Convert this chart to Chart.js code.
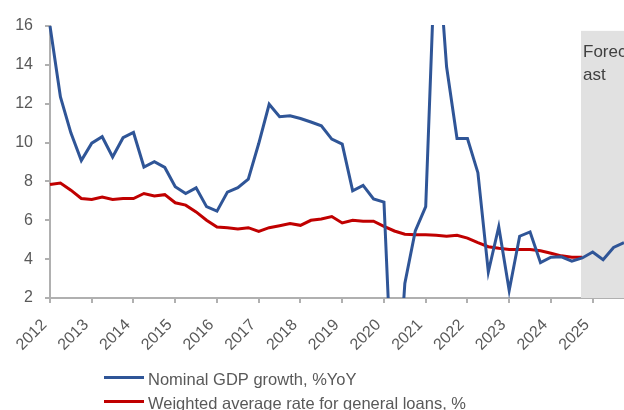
<!DOCTYPE html>
<html>
<head>
<meta charset="utf-8">
<script src="https://cdn.jsdelivr.net/npm/chart.js@4.4.1/dist/chart.umd.min.js"></script>
<style>
  html, body { margin: 0; padding: 0; background: #ffffff; }
  canvas { display: block; }
</style>
</head>
<body>
<canvas id="chart" width="624" height="410"></canvas>
<script>
// ---- data (quarterly, first point = start of 2012) ----
const startYear = 2012;
const endYear = 2025.75;
const forecastStart = 2024.72;
const forecastLabel = ['Forec', 'ast'];
const seriesNames = ['Nominal GDP growth, %YoY', 'Weighted average rate for general loans, %'];

const nominalGdpGrowth = [
  16.0, 12.35, 10.5, 9.07, 9.97, 10.3, 9.26, 10.25,
  10.52, 8.74, 9.02, 8.72, 7.73, 7.38, 7.67, 6.7,
  6.47, 7.45, 7.68, 8.12, 9.95, 11.97, 11.33, 11.38,
  11.24, 11.06, 10.86, 10.18, 9.92, 7.52, 7.8, 7.1,
  6.94, -5.3, 2.75, 5.45, 6.7, 21.2, 13.9, 10.21,
  10.21, 8.45, 3.34, 5.67, 2.39, 5.18, 5.4, 3.82,
  4.1, 4.12, 3.9, 4.06, 4.37, 3.97, 4.6, 4.85
];

const loanRate = [
  7.84, 7.92, 7.55, 7.12, 7.07, 7.2, 7.07, 7.12,
  7.12, 7.38, 7.25, 7.32, 6.9, 6.78, 6.43, 6.0,
  5.65, 5.62, 5.55, 5.62, 5.43, 5.62, 5.72, 5.83,
  5.74, 6.0, 6.07, 6.19, 5.86, 6.0, 5.95, 5.95,
  5.69, 5.45, 5.28, 5.26, 5.26, 5.23, 5.18, 5.23,
  5.08, 4.85, 4.64, 4.56, 4.5, 4.5, 4.5, 4.43,
  4.3, 4.17, 4.1, 4.1
];

const yMin = 2, yMax = 16, yStep = 2;

// ---- build points ----
const toPoints = arr => arr.map((v, i) => ({ x: startYear + i / 4, y: v }));

const BLUE = '#2f5597';
const RED = '#c00000';
const AXIS = '#b0b0b0';
const LABEL = '#595959';
const FONT = '"Liberation Sans", Arial, sans-serif';

const forecastPlugin = {
  id: 'forecastBox',
  beforeDatasetsDraw(chart) {
    const { ctx, chartArea, scales } = chart;
    const x0 = scales.x.getPixelForValue(forecastStart);
    const yTop = scales.y.getPixelForValue(15.75);
    ctx.save();
    ctx.fillStyle = '#e1e1e1';
    ctx.fillRect(x0, yTop, chartArea.right - x0 + 2, chartArea.bottom - yTop);
    ctx.fillStyle = '#404040';
    ctx.font = '17px ' + FONT;
    ctx.textBaseline = 'alphabetic';
    ctx.textAlign = 'left';
    ctx.fillText(forecastLabel[0], x0 + 2, 57);
    ctx.fillText(forecastLabel[1], x0 + 2, 79.5);
    ctx.restore();
  }
};

const legendPlugin = {
  id: 'customLegend',
  afterDraw(chart) {
    const { ctx } = chart;
    const rows = [384.5, 408.5];
    ctx.save();
    chart.data.datasets.forEach((ds, i) => {
      const base = rows[i];
      ctx.strokeStyle = ds.borderColor;
      ctx.lineWidth = 3;
      ctx.beginPath();
      ctx.moveTo(104, base - 7);
      ctx.lineTo(144, base - 7);
      ctx.stroke();
      ctx.fillStyle = LABEL;
      ctx.font = '16.5px ' + FONT;
      ctx.textAlign = 'left';
      ctx.textBaseline = 'alphabetic';
      ctx.fillText(ds.label, 148, base);
    });
    ctx.restore();
  }
};

new Chart(document.getElementById('chart'), {
  type: 'line',
  data: {
    datasets: [
      {
        label: seriesNames[0],
        data: toPoints(nominalGdpGrowth),
        borderColor: BLUE,
        backgroundColor: BLUE,
        borderWidth: 3,
        pointRadius: 0,
        tension: 0,
        clip: { left: 5, right: 5, top: 1, bottom: 0 }
      },
      {
        label: seriesNames[1],
        data: toPoints(loanRate),
        borderColor: RED,
        backgroundColor: RED,
        borderWidth: 3,
        pointRadius: 0,
        tension: 0,
        clip: { left: 5, right: 5, top: 1, bottom: 0 }
      }
    ]
  },
  options: {
    responsive: false,
    animation: false,
    layout: { padding: { top: 26, right: 0, bottom: 0, left: 0 } },
    plugins: {
      legend: { display: false },
      tooltip: { enabled: false },
      title: { display: false }
    },
    scales: {
      x: {
        type: 'linear',
        min: startYear,
        max: endYear,
        border: { color: AXIS, width: 2 },
        grid: { drawOnChartArea: false, drawTicks: true, tickLength: 5, color: AXIS, lineWidth: 2 },
        ticks: {
          stepSize: 1,
          includeBounds: false,
          autoSkip: false,
          minRotation: 45,
          maxRotation: 45,
          padding: 7,
          color: LABEL,
          font: { family: FONT, size: 16 },
          callback: v => String(v) + '\u2002'
        },
        afterFit(s) { s.height = 112; }
      },
      y: {
        min: yMin,
        max: yMax,
        border: { color: AXIS, width: 2 },
        grid: { drawOnChartArea: false, drawTicks: true, tickLength: 5, color: AXIS, lineWidth: 2 },
        ticks: {
          stepSize: yStep,
          padding: 12,
          color: LABEL,
          font: { family: FONT, size: 16 }
        },
        afterFit(s) { s.width = 50; }
      }
    }
  },
  plugins: [forecastPlugin, legendPlugin]
});
</script>
</body>
</html>
